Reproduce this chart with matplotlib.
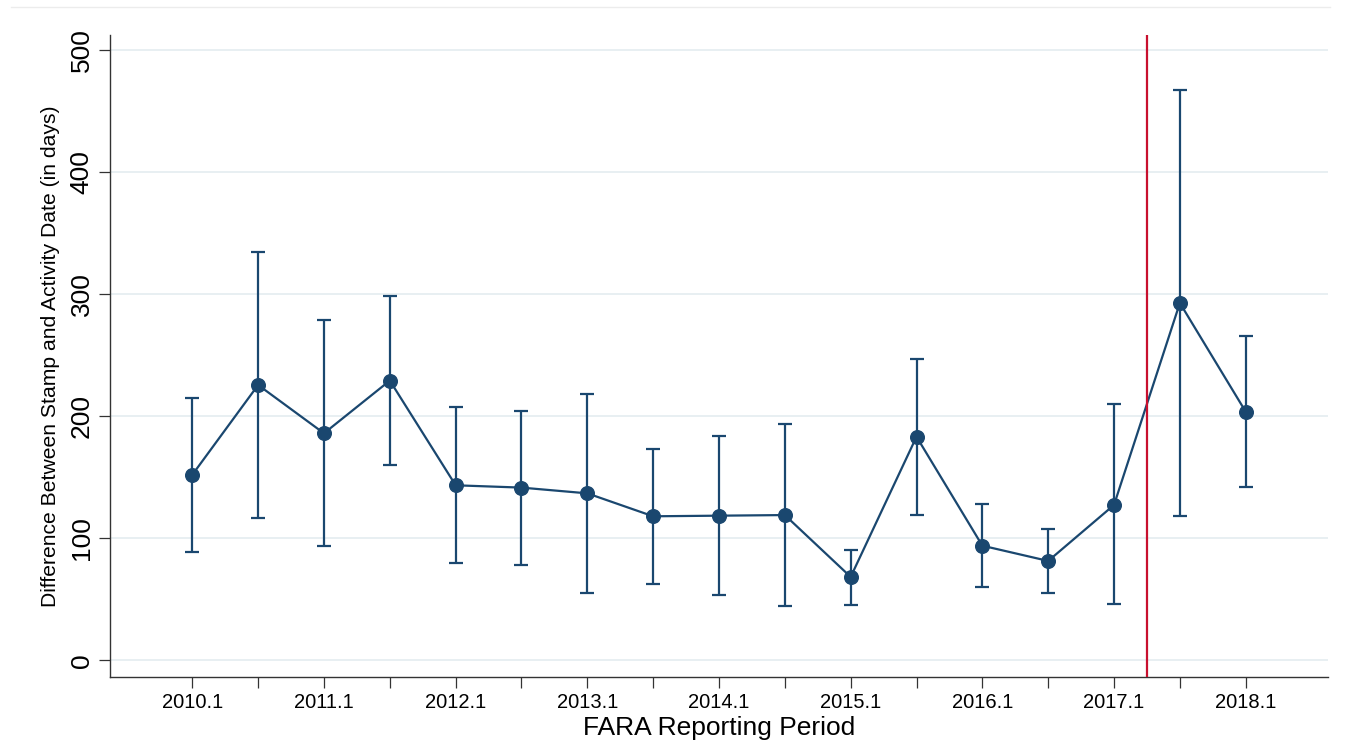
import numpy as np
import matplotlib
matplotlib.use("Agg")
import matplotlib.pyplot as plt
from matplotlib.lines import Line2D

periods = ['2010.1', '2010.2', '2011.1', '2011.2', '2012.1', '2012.2',
           '2013.1', '2013.2', '2014.1', '2014.2', '2015.1', '2015.2',
           '2016.1', '2016.2', '2017.1', '2017.2', '2018.1']
mean_days = [152.0, 225.6, 186.0, 229.2, 143.4, 141.5, 136.8, 118.0, 118.5,
             119.0, 68.3, 183.2, 93.9, 81.4, 127.3, 292.8, 203.7]
upper_ci = [214.7, 334.6, 278.6, 298.5, 207.6, 204.3, 218.2, 173.2, 183.6,
            193.6, 90.6, 247.2, 128.1, 107.5, 209.8, 467.3, 265.8]
lower_ci = [89.0, 116.3, 93.7, 160.3, 79.5, 78.4, 55.4, 62.8, 53.5,
            44.5, 45.6, 119.3, 59.8, 54.9, 45.9, 118.5, 141.8]
y_ticks = [0, 100, 200, 300, 400, 500]
cutoff_after = '2017.1'

plt.rcParams['font.family'] = ['Liberation Sans', 'DejaVu Sans']

navy = '#1a476f'
W, H = 1361, 744
fig = plt.figure(figsize=(W / 100, H / 100), dpi=100)
ax = fig.add_axes([110 / W, 1 - 677 / H, (1328 - 110) / W, (677 - 35) / H])

x = np.arange(len(periods))
mean = np.array(mean_days)
yerr = np.vstack([mean - np.array(lower_ci), np.array(upper_ci) - mean])

ax.errorbar(x, mean, yerr=yerr, fmt='none', ecolor=navy, elinewidth=1.6,
            capsize=4.9, capthick=1.6, zorder=3)
ax.plot(x, mean, color=navy, lw=1.6, marker='o', markersize=9.8,
        markerfacecolor=navy, markeredgecolor=navy, zorder=4)

ax.axvline(periods.index(cutoff_after) + 0.5, color='#c8102e', lw=1.6, zorder=5)

ax.set_xlim(-1.25, len(periods) - 1 + 1.25)
ax.set_ylim(-13.7, 512.4)

ax.set_xticks(x)
ax.set_xticklabels([p if p.endswith('.1') else '' for p in periods], fontsize=14.5)
ax.set_yticks(y_ticks)
ax.set_yticklabels([str(v) for v in y_ticks], fontsize=19, rotation=90,
                   va='center')

for t in y_ticks:
    ax.axhline(t, color='#e8eff2', lw=1.4, zorder=1)

ax.tick_params(axis='both', direction='out', length=7.7, width=0.9,
               color='#333333', labelcolor='black')
ax.tick_params(axis='x', pad=3.5)
ax.tick_params(axis='y', pad=4)

for side in ['top', 'right']:
    ax.spines[side].set_visible(False)
for side in ['left', 'bottom']:
    ax.spines[side].set_color('#333333')
    ax.spines[side].set_linewidth(1.0)

ax.set_xlabel('FARA Reporting Period', fontsize=19, va='center')
ax.xaxis.set_label_coords(0.5, (677 - 727.5) / (677 - 35))
ax.set_ylabel('Difference Between Stamp and Activity Date (in days)',
              fontsize=15.2, va='center')
ax.yaxis.set_label_coords((51 - 110) / (1328 - 110), 0.5)

fig.add_artist(Line2D([11 / W, 1330 / W], [1 - 7 / H, 1 - 7 / H],
                      color='#ececec', lw=1.0, transform=fig.transFigure))

fig.savefig('out.png', dpi=100, facecolor='white')
